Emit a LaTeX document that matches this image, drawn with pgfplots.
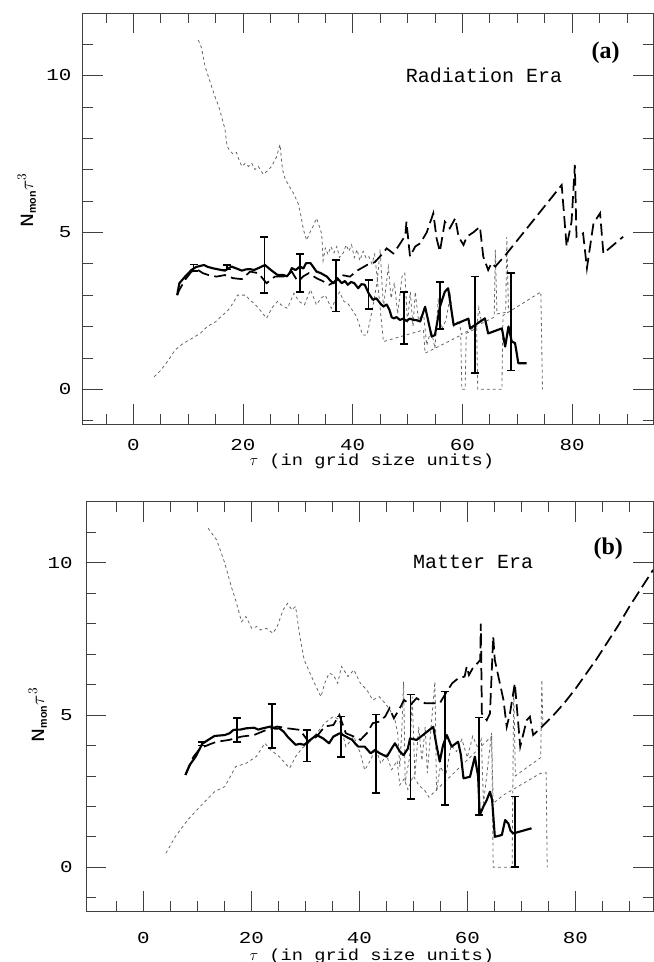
\documentclass[border=0pt]{standalone}
\usepackage{fontspec}
\setmainfont{Liberation Mono}
\setsansfont{Liberation Sans}
\newfontfamily\labelfont{Liberation Serif}
\newfontfamily\wide[FakeStretch=1.25]{Liberation Mono}
\newfontfamily\wider[FakeStretch=1.17]{Liberation Mono}
\usepackage{pgfplots}
\pgfplotsset{compat=1.18}

% error bars: x, centre, half-length
\pgfplotstableread{
x y e
11.0 3.88 0.10
17.1 3.89 0.07
23.9 3.96 0.90
30.4 3.70 0.60
36.9 3.30 0.82
42.9 3.02 0.47
49.4 2.28 0.83
55.9 2.68 0.75
62.3 2.06 1.53
68.8 2.15 1.55
}\errA
\pgfplotstableread{
x y e
10.9 4.06 0.06
17.4 4.50 0.39
23.8 4.63 0.72
30.3 3.99 0.52
36.6 4.29 0.66
43.1 3.72 1.29
49.5 3.95 1.72
55.9 3.91 1.86
62.2 3.32 1.60
68.8 1.16 1.16
}\errB

\pgfplotsset{
  panel/.style={
    scale only axis, anchor=south west,
    axis line style={line width=0.6pt, black!75},
    tick align=inside,
    major tick length=15pt, minor tick length=7.5pt,
    every tick/.style={line width=0.5pt, black!75},
    xtick={0,20,40,60,80},
    minor xtick={-5,5,10,15,25,30,35,45,50,55,65,70,75,85,90},
    ytick={0,5,10},
    minor ytick={-1,1,2,3,4,6,7,8,9,11},
    ticklabel style={font=\wide\fontsize{12.5}{12.5}\selectfont},
    /pgf/number format/assume math mode=true,
    xlabel={$\tau$ (in grid size units)},
    ylabel={{\wide\fontsize{14}{14}\selectfont N}$_{\mbox{\sffamily\bfseries\fontsize{8}{8}\selectfont mon}}\tau^{3}$},
  },
  solidline/.style={black, line width=1.6pt, line join=round},
  dashline/.style={black, line width=1.3pt, dash pattern=on 9pt off 4pt},
  dotline/.style={black!60, line width=0.6pt, dash pattern=on 2.2pt off 2.2pt},
  errbars/.style={draw=none, error bars/.cd, y dir=both, y explicit,
    error bar style={draw=black, solid, line width=1.3pt},
    error mark=-,
    error mark options={rotate=90, draw=black, solid, line width=1.3pt, mark size=3pt}},
}

\begin{document}
\begin{tikzpicture}
\useasboundingbox (0,0) rectangle (489.75pt,721.5pt);

% ---------------- (a) radiation era
\begin{axis}[panel,
  at={(62.03pt,403.5pt)}, width=427.72pt, height=308pt,
  xmin=-9.22, xmax=94.75, ymin=-1.106, ymax=11.98,
  xticklabel style={anchor=center, inner sep=0pt, yshift=-15.75pt},
  yticklabel style={anchor=east, inner sep=0pt, xshift=-8.25pt},
  xlabel style={at={(axis description cs:0.507,0)}, anchor=center, yshift=-28pt, font=\wider\fontsize{12}{12}\selectfont},
  ylabel style={at={(axis description cs:-0.098,0.545)}, anchor=center, font=\fontsize{14}{14}\selectfont},
]
% upper dotted band
\addplot[dotline] coordinates {
(11.85,11.13)(12.4,10.9)(13.1,10.28)(14.0,9.8)(14.9,9.32)(15.6,9.0)(16.1,8.69)(16.7,8.3)
(17.1,7.75)(17.6,7.6)(18.2,7.5)(18.8,7.55)(19.3,7.3)(19.8,7.1)(20.4,7.2)(21.0,7.1)(21.6,7.2)
(22.2,7.0)(22.8,7.1)(23.7,6.85)(24.4,6.95)(25.2,7.1)(26.1,7.4)(26.75,7.8)(27.2,7.0)(27.7,6.7)
(28.5,6.45)(29.2,6.25)(30.1,5.9)(30.6,5.5)(31.0,5.1)(31.6,4.75)(32.2,5.0)(32.8,5.2)(33.4,5.45)
(33.9,5.2)(34.35,4.95)(34.6,4.1)(35.0,4.5)(35.5,4.3)(36.0,4.55)(36.6,4.35)(37.1,4.55)(37.6,4.2)
(38.3,4.35)(38.8,4.6)(39.3,4.4)(39.8,4.6)(40.3,4.2)(40.8,4.45)(41.3,4.1)(41.9,4.4)(42.4,4.2)
(42.9,4.25)(43.5,4.0)(44.0,4.3)(44.5,3.5)(45.0,4.45)(45.6,2.6)(46.5,3.9)(47.0,2.9)(47.6,3.4)
(48.2,2.4)(49.0,3.6)(49.5,3.7)(50.0,2.1)(50.5,3.1)(51.0,2.0)(51.4,3.1)(52.0,2.2)(52.9,2.45)
(53.5,1.4)(54.3,1.9)(55.0,1.3)(55.6,2.9)(56.2,1.9)(57.0,2.2)(57.8,3.0)(58.4,2.0)(59.4,2.2)
(59.8,1.75)(62.6,2.0)(63.0,2.6)(63.5,2.1)(65.8,2.3)(66.0,4.45)(66.3,2.4)(67.9,2.45)(68.1,4.85)(68.4,2.5)
};
% lower dotted band
\addplot[dotline] coordinates {
(3.8,0.40)(5.0,0.6)(6.5,0.95)(7.6,1.25)(9.0,1.45)(10.5,1.6)(12.2,1.78)(13.5,2.0)(15.0,2.15)
(16.0,2.32)(17.2,2.5)(18.2,2.75)(19.0,3.0)(20.5,3.0)(21.2,2.85)(22.0,2.74)(23.0,2.55)(24.3,2.26)
(25.3,2.6)(26.3,2.8)(27.2,2.65)(28.1,2.58)(29.3,3.06)(30.2,2.8)(31.2,2.69)(32.3,3.17)(33.4,2.69)
(34.2,2.9)(35.0,3.0)(36.1,2.58)(37.6,3.1)(38.4,2.8)(39.1,2.74)(40.7,2.32)(41.8,1.73)(42.6,1.73)
(43.7,2.64)(44.5,3.49)(45.6,1.52)(52.9,1.89)(53.2,1.15)(59.7,1.72)(59.9,0)(60.5,0)(60.7,1.78)
(62.6,1.95)(62.8,0)(67.2,0)(67.4,2.35)(74.3,3.1)(74.6,0)
};
% dashed
\addplot[dashline] coordinates {
(8.0,3.0)(8.4,3.17)(9.5,3.5)(10.6,3.75)(11.8,3.8)(12.7,3.7)(13.7,3.64)(15.2,3.59)(16.7,3.64)
(18.2,3.54)(19.8,3.51)(21.3,3.75)(22.8,3.70)(24.3,3.38)(25.8,3.59)(27.4,3.59)(28.9,3.75)(30.0,3.43)
(31.0,3.6)(32.0,3.70)(33.4,3.54)(34.5,3.45)(35.7,3.33)(36.9,3.43)(38.0,3.64)(39.5,3.59)(41.0,3.8)
(42.6,3.96)(44.0,4.05)(45.0,4.23)(46.2,4.49)(47.4,4.33)(48.3,4.55)(49.6,4.9)(49.8,5.34)(50.45,4.23)
(51.4,4.55)(52.3,4.65)(53.5,5.0)(54.7,5.61)(55.3,4.8)(55.9,4.39)(56.8,5.34)(57.7,5.13)(58.7,5.45)
(59.3,4.86)(60.2,4.6)(60.8,4.86)(62.0,5.0)(63.2,5.18)(63.8,4.23)(64.7,3.8)(65.3,4.02)(66.0,3.91)
(68.1,4.33)(78.1,6.51)(79.0,4.55)(79.9,5.34)(80.5,7.15)(80.8,4.86)(82.0,4.97)(82.7,3.86)(83.9,5.29)
(85.1,5.61)(85.7,4.33)(89.3,4.86)
};
% solid
\addplot[solidline] coordinates {
(8.0,3.0)(8.4,3.38)(9.5,3.6)(10.6,3.8)(11.5,3.9)(12.9,3.96)(13.6,3.9)(14.4,3.86)(15.5,3.82)
(16.7,3.78)(17.9,3.91)(18.8,3.85)(19.8,3.78)(20.5,3.82)(21.3,3.83)(22.0,3.8)(22.8,3.86)(24.0,3.96)
(25.1,3.80)(26.3,3.64)(27.4,3.64)(28.0,3.6)(28.5,3.70)(28.9,3.86)(29.6,3.8)(30.4,3.91)(31.0,3.85)
(31.5,4.02)(32.3,4.02)(32.8,3.9)(33.4,3.75)(34.2,3.70)(35.3,3.59)(36.0,3.45)(36.5,3.38)(37.2,3.54)
(38.0,3.38)(38.6,3.45)(39.1,3.33)(39.7,3.42)(40.3,3.38)(41.0,3.22)(41.6,3.35)(42.2,3.33)(42.9,3.06)
(43.7,2.85)(44.3,2.9)(44.8,2.79)(45.2,2.7)(45.6,2.64)(46.2,2.7)(46.7,2.53)(47.1,2.3)(47.5,2.26)
(48.0,2.3)(48.6,2.21)(49.2,2.25)(49.8,2.18)(50.4,2.25)(51.1,2.21)(51.7,2.2)(52.3,2.16)(53.2,2.63)
(54.4,1.68)(55.0,1.73)(55.9,2.63)(56.8,3.11)(57.4,3.22)(58.4,2.05)(61.1,2.25)(61.4,1.94)(64.1,2.26)
(64.7,1.78)(67.2,1.94)(67.8,1.36)(68.4,2.0)(69.0,1.52)(69.6,1.47)(70.2,0.83)(71.7,0.83)
};
\addplot[errbars] table[x=x, y=y, y error=e] {\errA};
\node[font=\fontsize{15}{15}\selectfont, anchor=base] at (axis cs:63.94,9.79) {Radiation Era};
\node[font=\labelfont\bfseries\fontsize{18}{18}\selectfont, inner sep=0pt] at (axis cs:86.1,10.71) {(a)};
\end{axis}

% ---------------- (b) matter era
\begin{axis}[panel,
  at={(64.5pt,38.25pt)}, width=425.25pt, height=307pt,
  xmin=-10.61, xmax=94.39, ymin=-1.435, ymax=12.0,
  xticklabel style={anchor=center, inner sep=0pt, yshift=-20.5pt},
  yticklabel style={anchor=east, inner sep=0pt, xshift=-9.75pt},
  xlabel style={at={(axis description cs:0.504,0)}, anchor=center, yshift=-34pt, font=\wider\fontsize{12}{12}\selectfont},
  ylabel style={at={(axis description cs:-0.085,0.479)}, anchor=center, font=\fontsize{14}{14}\selectfont},
]
% upper dotted band
\addplot[dotline] coordinates {
(12.0,11.13)(13.6,10.74)(15.1,9.98)(16.3,9.21)(17.1,8.77)(18.2,8.06)(19.0,8.23)(20.1,7.84)(21.0,7.9)
(21.7,7.79)(22.8,7.84)(24.0,7.68)(24.8,7.9)(25.9,8.45)(26.7,8.66)(27.5,8.45)(28.2,8.56)(29.0,7.57)
(29.8,6.8)(30.6,6.48)(31.7,6.04)(32.9,5.6)(33.6,6.04)(34.4,6.37)(35.2,6.31)(36.0,6.04)(36.7,6.59)
(37.9,6.26)(39.0,6.48)(40.2,6.04)(41.4,5.82)(42.5,5.49)(43.7,5.6)(44.8,5.38)(45.7,5.16)(46.6,4.84)
(47.1,4.4)(47.5,3.3)(47.9,4.6)(48.2,6.09)(48.5,2.8)(49.3,3.6)(49.8,5.6)(50.3,3.0)(51.0,4.6)(51.6,3.5)
(52.2,4.6)(52.6,3.1)(53.2,4.4)(54.0,6.09)(54.3,2.5)(55.0,3.3)(56.0,3.0)(57.0,4.0)(58.0,3.8)(59.0,4.2)
(60.0,3.6)(61.0,4.3)(62.0,3.9)(62.6,4.2)(63.0,2.1)(64.5,4.4)(64.8,0)(68.3,0)(68.6,5.9)(68.9,3.0)
(73.6,3.6)(73.8,6.15)(74.0,4.6)
};
% lower dotted band
\addplot[dotline] coordinates {
(4.2,0.46)(5.9,1.0)(8.2,1.55)(10.5,1.99)(13.2,2.48)(15.1,2.65)(17.1,3.3)(19.0,3.41)(20.9,3.63)
(22.5,4.07)(23.6,3.85)(25.2,3.63)(27.1,3.25)(28.2,3.63)(29.4,3.91)(30.6,4.07)(32.1,4.4)(33.6,4.73)
(35.2,4.95)(36.3,4.84)(37.5,3.96)(39.0,4.29)(40.2,3.74)(41.0,3.19)(42.1,3.52)(43.0,3.9)(44.0,3.4)
(45.0,3.7)(46.0,3.2)(47.0,3.5)(47.5,2.7)(48.3,2.9)(49.0,2.55)(50.0,3.0)(51.0,2.7)(52.2,2.5)(52.9,2.3)
(64.5,4.3)(64.8,2.1)(66.7,2.37)(73.5,3.08)(74.6,3.1)(74.8,0)
};
% dashed
\addplot[dashline] coordinates {
(7.8,3.03)(9.3,3.63)(10.3,3.85)(11.3,3.96)(12.5,4.05)(13.6,4.12)(15.9,4.18)(18.2,4.29)(20.5,4.34)
(22.8,4.51)(24.8,4.62)(26.7,4.56)(29.0,4.51)(30.6,4.12)(32.1,4.29)(33.6,4.62)(35.2,4.67)(36.3,5.0)
(37.5,4.40)(39.0,4.29)(40.2,4.18)(41.4,4.40)(42.5,4.73)(43.7,4.78)(44.8,4.95)(45.6,5.22)(46.4,4.89)
(47.5,5.22)(48.3,5.49)(49.5,5.33)(50.6,5.55)(52.2,5.38)(53.7,5.38)(54.9,5.38)(56.0,5.71)(57.2,6.04)
(58.3,6.20)(59.5,6.26)(59.9,6.59)(60.3,6.31)(61.0,6.53)(62.4,6.8)(62.5,8.0)(62.7,5.05)(63.6,4.83)
(64.2,5.05)(64.8,7.57)(65.1,6.8)(66.7,5.49)(67.3,4.61)(67.9,5.05)(68.8,6.04)(69.8,3.96)(71.0,4.83)
(71.6,4.94)(72.2,4.34)(73.5,4.56)(76.0,5.0)(78.0,5.4)(80.0,5.85)(82.0,6.35)(84.0,6.85)(86.0,7.4)
(88.0,7.95)(90.0,8.55)(92.0,9.1)(94.4,9.76)
};
% solid
\addplot[solidline] coordinates {
(7.8,3.03)(8.6,3.36)(9.7,3.63)(10.9,4.05)(12.0,4.18)(13.2,4.31)(15.1,4.34)(16.0,4.4)(16.7,4.51)
(18.0,4.52)(19.0,4.56)(20.5,4.58)(21.3,4.52)(22.1,4.56)(23.6,4.62)(24.4,4.55)(25.2,4.56)(26.0,4.45)
(26.7,4.29)(27.5,4.15)(28.2,4.02)(29.0,4.05)(29.8,4.02)(30.9,4.18)(32.1,4.34)(33.3,4.23)(34.4,4.07)
(35.2,4.29)(36.4,4.40)(37.5,4.29)(38.7,4.18)(39.3,4.05)(39.8,3.96)(41.0,3.96)(42.1,3.74)(42.9,3.85)
(43.8,3.74)(45.1,3.63)(46.0,3.9)(46.6,4.07)(47.5,3.8)(48.2,3.68)(49.0,3.9)(49.4,4.23)(50.6,4.18)
(51.5,4.3)(52.2,4.4)(53.7,4.61)(54.3,4.0)(54.9,3.47)(55.5,4.0)(56.2,4.34)(57.1,3.96)(58.3,4.12)
(58.8,3.7)(59.3,2.92)(60.5,2.97)(61.4,3.63)(61.7,3.3)(62.0,3.0)(62.3,1.71)(63.0,2.0)(63.6,2.21)
(64.2,2.48)(64.6,2.2)(65.1,1.0)(66.4,1.06)(67.0,1.55)(67.6,1.44)(68.0,1.2)(68.5,1.11)(71.9,1.28)
};
\addplot[errbars] table[x=x, y=y, y error=e] {\errB};
\node[font=\fontsize{15}{15}\selectfont, anchor=base] at (axis cs:61.06,9.79) {Matter Era};
\node[font=\labelfont\bfseries\fontsize{18}{18}\selectfont, inner sep=0pt] at (axis cs:86.1,10.47) {(b)};
\end{axis}
\end{tikzpicture}
\end{document}
